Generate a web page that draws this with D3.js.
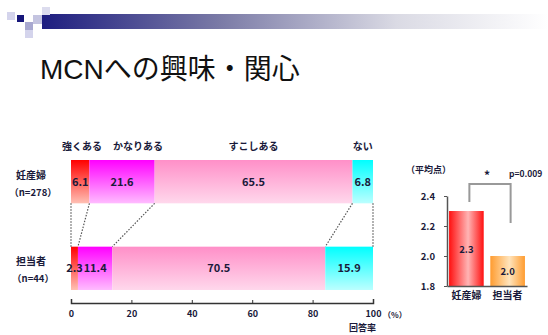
<!DOCTYPE html>
<html>
<head>
<meta charset="utf-8">
<script src="https://cdn.jsdelivr.net/npm/d3@7"></script>
<style>
  body { margin: 0; background: #fff; }
  text { font-family: "Noto Sans CJK JP", "DejaVu Sans", sans-serif; }
</style>
</head>
<body>
<div id="chart"></div>
<script>
// chart values
let GROUPS = ["妊産婦", "担当者"];
let GROUP_N = ["（n=278）", "（n=44）"];
let CATEGORIES = ["強くある", "かなりある", "すこしある", "ない"];
let PREGNANT_PCT = [6.1, 21.6, 65.5, 6.8];
let STAFF_PCT = [2.3, 11.4, 70.5, 15.9];
let PCT_TICKS = [0, 20, 40, 60, 80, 100];
let MEAN_SCORES = [2.3, 2.0];
let MEAN_TICKS = [1.8, 2.0, 2.2, 2.4];

// frame
let FRAME_WIDTH = 548;
let FRAME_HEIGHT = 335;

let SVG = d3.select("#chart")
            .append("svg")
            .attr("width", FRAME_WIDTH)
            .attr("height", FRAME_HEIGHT);

let defs = SVG.append("defs");

// header bar gradient
let hdr = defs.append("linearGradient").attr("id", "hdr");
hdr.append("stop").attr("offset", "0").attr("stop-color", "#1e1e80");
hdr.append("stop").attr("offset", "0.35").attr("stop-color", "#7a7aa6");
hdr.append("stop").attr("offset", "0.7").attr("stop-color", "#dadae4");
hdr.append("stop").attr("offset", "1").attr("stop-color", "#ffffff");

SVG.append("rect").attr("x", 42).attr("y", 14).attr("width", 506).attr("height", 15)
   .attr("fill", "url(#hdr)");

// little squares at the start of the header
let squares = [
  {x: 7, y: 12, s: 8, c: "#d4d4ec"},
  {x: 17, y: 15, s: 7, c: "#16167a"},
  {x: 25, y: 22, s: 8, c: "#a8a8d0"},
  {x: 25, y: 30, s: 8, c: "#d4d4ec"},
  {x: 33, y: 15, s: 9, c: "#c4c4e0"},
  {x: 42, y: 7, s: 8, c: "#dcdcee"}
];
SVG.selectAll(".sq").data(squares).enter().append("rect")
   .attr("x", d => d.x).attr("y", d => d.y)
   .attr("width", d => d.s).attr("height", d => d.s)
   .attr("fill", d => d.c);

// title
SVG.append("text").attr("x", 40).attr("y", 79)
   .attr("font-size", "28px").attr("fill", "#111")
   .style("font-family", "'Liberation Sans', 'Noto Sans CJK JP', sans-serif")
   .text("MCNへの興味・関心");

// ---------- stacked percent bars ----------
let X_SCALE = d3.scaleLinear().domain([0, 100]).range([71, 373]);
let Y_BAND = d3.scaleBand().domain(GROUPS).range([160, 290]).paddingInner(0.5);

let TOP_COLORS = ["#ff0000", "#ff00ff", "#ff8fc8", "#00ffff"];
let BOT_COLORS = ["#ffc0b4", "#ffbcff", "#ffd8ec", "#bcffff"];

CATEGORIES.forEach((c, i) => {
  let g = defs.append("linearGradient").attr("id", "seg" + i)
              .attr("x1", 0).attr("y1", 0).attr("x2", 0).attr("y2", 1);
  g.append("stop").attr("offset", "0").attr("stop-color", TOP_COLORS[i]);
  g.append("stop").attr("offset", "1").attr("stop-color", BOT_COLORS[i]);
});

function stackRow(vals) {
  let acc = 0;
  return vals.map((v, i) => {
    let d = {i: i, v: v, x0: acc, x1: acc + v};
    acc += v;
    return d;
  });
}

let ROWS = [stackRow(PREGNANT_PCT), stackRow(STAFF_PCT)];

ROWS.forEach((row, r) => {
  let y0 = Y_BAND(GROUPS[r]);
  SVG.selectAll(".seg" + r).data(row).enter().append("rect")
     .attr("x", d => X_SCALE(d.x0))
     .attr("y", y0)
     .attr("width", d => X_SCALE(Math.min(d.x1, 100)) - X_SCALE(d.x0))
     .attr("height", Y_BAND.bandwidth())
     .attr("fill", d => "url(#seg" + d.i + ")");

  SVG.selectAll(".val" + r).data(row).enter().append("text")
     .attr("x", d => (X_SCALE(d.x0) + X_SCALE(Math.min(d.x1, 100))) / 2)
     .attr("y", y0 + Y_BAND.bandwidth() / 2 + 4)
     .attr("text-anchor", "middle")
     .attr("font-size", "11px").attr("font-weight", "bold")
     .attr("fill", "#1a1a3a")
     .text(d => d.v.toFixed(1));

  // group labels
  SVG.append("text").attr("x", 31).attr("y", y0 + Y_BAND.bandwidth() / 2 - 3)
     .attr("text-anchor", "middle").attr("font-size", "10px").attr("font-weight", "bold")
     .attr("fill", "#1a1a3a").text(GROUPS[r]);
  SVG.append("text").attr("x", 33).attr("y", y0 + Y_BAND.bandwidth() / 2 + 14)
     .attr("text-anchor", "middle").attr("font-size", "9.5px").attr("font-weight", "bold")
     .attr("fill", "#1a1a3a").text(GROUP_N[r]);
});

// dotted connectors between bars
let bounds = [0].concat(ROWS[0].map(d => d.x1)).map((b, k) => ({
  a: Math.min(b, 100),
  b: Math.min(k === 0 ? 0 : ROWS[1][k - 1].x1, 100)
}));
let topBottom = Y_BAND(GROUPS[0]) + Y_BAND.bandwidth();
let botTop = Y_BAND(GROUPS[1]);
SVG.selectAll(".conn").data(bounds).enter().append("line")
   .attr("x1", d => X_SCALE(d.a)).attr("y1", topBottom)
   .attr("x2", d => X_SCALE(d.b)).attr("y2", botTop)
   .attr("stroke", "#555").attr("stroke-width", 1.2)
   .attr("stroke-dasharray", "1.5,1.5");

// category labels over the top bar
SVG.selectAll(".cat").data(ROWS[0]).enter().append("text")
   .attr("x", d => d.i === 0 ? 82 : (X_SCALE(d.x0) + X_SCALE(Math.min(d.x1, 100))) / 2 + (d.i === 1 ? 16 : 0))
   .attr("y", 150)
   .attr("text-anchor", "middle")
   .attr("font-size", "10px").attr("font-weight", "bold").attr("fill", "#1a1a3a")
   .text(d => CATEGORIES[d.i]);

// x axis
let xAxis = SVG.append("g")
   .attr("transform", "translate(0,303)")
   .call(d3.axisBottom(X_SCALE).tickValues(PCT_TICKS).tickSize(-3).tickSizeOuter(-4).tickPadding(8));
xAxis.select(".domain").attr("stroke", "#333").attr("stroke-width", 1.5);
xAxis.selectAll(".tick line").attr("stroke", "#333");
xAxis.selectAll("text").attr("font-size", "9px").attr("font-weight", "bold").attr("fill", "#1a1a3a");

SVG.append("text").attr("x", 383).attr("y", 318).attr("font-size", "8px").attr("font-weight", "bold")
   .attr("fill", "#1a1a3a").text("（%）");
SVG.append("text").attr("x", 349).attr("y", 331).attr("font-size", "9px").attr("font-weight", "bold")
   .attr("fill", "#1a1a3a").text("回答率");

// ---------- mean score bars ----------
let M_Y = d3.scaleLinear().domain([1.8, 2.4]).range([286, 196]);
let M_X = d3.scaleBand().domain(GROUPS).range([447, 527]).paddingInner(0.16).paddingOuter(0.05);

let barGrad = [["#ff1010", "#ffb4b4"], ["#ff9c30", "#ffe4bc"]];
barGrad.forEach((c, i) => {
  let g = defs.append("linearGradient").attr("id", "mb" + i);
  g.append("stop").attr("offset", "0").attr("stop-color", c[0]);
  g.append("stop").attr("offset", "0.55").attr("stop-color", c[1]);
  g.append("stop").attr("offset", "1").attr("stop-color", c[0]);
});

SVG.selectAll(".mbar").data(MEAN_SCORES).enter().append("rect")
   .attr("x", (d, i) => M_X(GROUPS[i]))
   .attr("y", d => M_Y(d))
   .attr("width", M_X.bandwidth())
   .attr("height", d => M_Y(1.8) - M_Y(d))
   .attr("fill", (d, i) => "url(#mb" + i + ")");

SVG.selectAll(".mval").data(MEAN_SCORES).enter().append("text")
   .attr("x", (d, i) => M_X(GROUPS[i]) + M_X.bandwidth() / 2)
   .attr("y", d => (M_Y(d) + M_Y(1.8)) / 2 + 4)
   .attr("text-anchor", "middle").attr("font-size", "9.5px").attr("font-weight", "bold")
   .attr("fill", "#1a1a3a")
   .text(d => d.toFixed(1));

let yAxis = SVG.append("g")
   .attr("transform", "translate(447,0)")
   .call(d3.axisLeft(M_Y).tickValues(MEAN_TICKS).tickFormat(d3.format(".1f")).tickSize(3).tickSizeOuter(0).tickPadding(9));
yAxis.select(".domain").attr("stroke", "#555").attr("stroke-width", 1.5);
yAxis.selectAll(".tick line").attr("stroke", "#555");
yAxis.selectAll("text").attr("font-size", "9.5px").attr("font-weight", "bold").attr("fill", "#1a1a3a");

let mxAxis = SVG.append("g")
   .attr("transform", "translate(0,286)")
   .call(d3.axisBottom(M_X).tickSize(0).tickPadding(6));
mxAxis.select(".domain").attr("stroke", "#555").attr("stroke-width", 1.5);
mxAxis.selectAll("text").attr("font-size", "10px").attr("font-weight", "bold").attr("fill", "#1a1a3a");

SVG.append("text").attr("x", 406).attr("y", 173).attr("font-size", "9px").attr("font-weight", "bold")
   .attr("fill", "#1a1a3a").text("（平均点）");

// significance bracket
let bx1 = M_X(GROUPS[0]) + M_X.bandwidth() / 2 + 3;
let bx2 = M_X(GROUPS[1]) + M_X.bandwidth() / 2 + 3;
SVG.append("path")
   .attr("d", "M" + bx1 + "," + (M_Y(2.3) - 9) + "V184H" + bx2 + "V" + (M_Y(2.0) - 33))
   .attr("fill", "none").attr("stroke", "#999").attr("stroke-width", 2);
SVG.append("text").attr("x", 487).attr("y", 180).attr("text-anchor", "middle")
   .attr("font-size", "12px").attr("font-weight", "bold").attr("fill", "#1a1a3a").text("*");
SVG.append("text").attr("x", 509).attr("y", 177).attr("font-size", "8.5px").attr("font-weight", "bold")
   .attr("fill", "#1a1a3a").text("p=0.009");
</script>
</body>
</html>
